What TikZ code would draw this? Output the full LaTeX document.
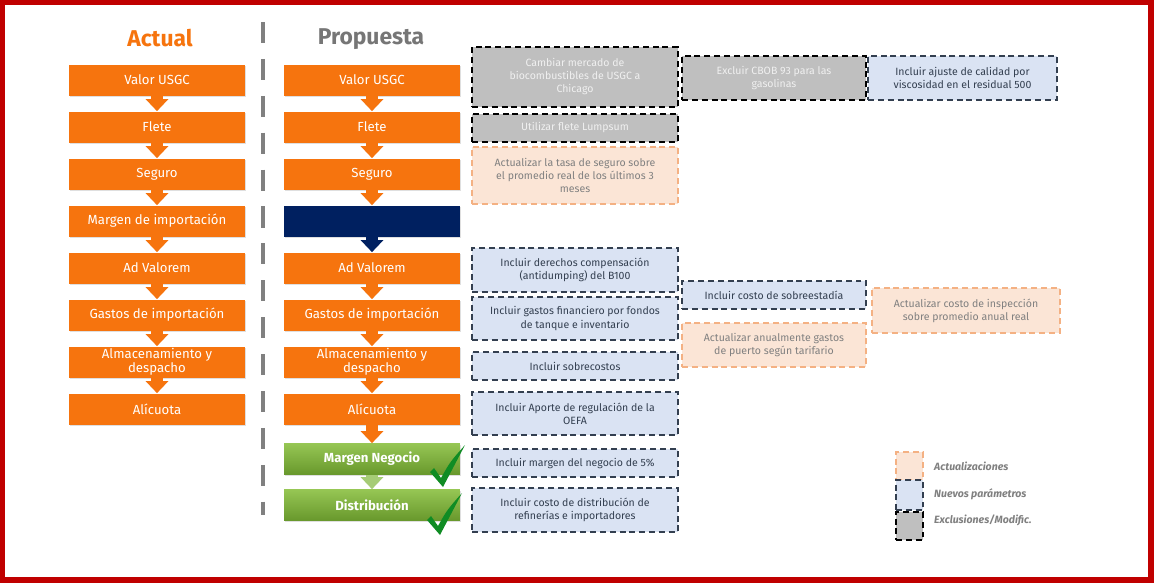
\documentclass[tikz,border=0pt]{standalone}
\usepackage{fontspec}
\setmainfont{Fira Sans}
\usetikzlibrary{arrows.meta,shadows}

\definecolor{naranja}{RGB}{246,116,14}
\definecolor{marino}{RGB}{0,32,96}
\definecolor{rojo}{RGB}{192,0,0}
\definecolor{divgris}{RGB}{128,128,128}
\definecolor{titgris}{RGB}{118,118,118}
\definecolor{verdeA}{RGB}{150,198,84}
\definecolor{verdeB}{RGB}{104,152,44}
\definecolor{verdeflecha}{RGB}{166,204,118}
\definecolor{check}{RGB}{16,140,36}
\definecolor{grisfill}{RGB}{191,191,191}
\definecolor{azulfill}{RGB}{218,227,243}
\definecolor{azulline}{RGB}{51,63,80}
\definecolor{naranjafill}{RGB}{251,229,214}
\definecolor{naranjaline}{RGB}{244,177,131}

\tikzset{
  paso/.style={fill=naranja, text=white, minimum width=3.52cm, minimum height=0.62cm,
    inner sep=0pt, align=center, font=\fontsize{7.5}{8.2}\selectfont,
    drop shadow={opacity=0.25, shadow xshift=0.5pt, shadow yshift=-0.7pt}},
  pasoverde/.style={paso, fill=none, top color=verdeA, bottom color=verdeB,
    font=\bfseries\fontsize{7.5}{8.2}\selectfont},
  flecha/.style={draw=naranja, line width=0.24cm, -{Triangle[width=0.44cm,length=0.24cm]}},
  cambio/.style={line width=0.8pt, dash pattern=on 3.4pt off 2.2pt, align=center,
    inner sep=1pt, font=\fontsize{6}{7.4}\selectfont},
  nuevo/.style={cambio, fill=azulfill, draw=azulline, text=azulline},
  actualiza/.style={cambio, fill=naranjafill, draw=naranjaline, text=gray},
  excluye/.style={cambio, fill=grisfill, draw=black, text=white!94!black},
  leyenda/.style={anchor=west, text=gray, font=\bfseries\itshape\fontsize{6}{7}\selectfont}
}

\begin{document}
\begin{tikzpicture}[x=0.02cm, y=-0.02cm]
  \useasboundingbox (0,0) rectangle (1154,583);
  \fill[rojo] (0,0) rectangle (1154,583);
  \fill[white] (5,5) rectangle (1148,577);

  % titles and divider
  \node[text=naranja, font=\bfseries\fontsize{13}{15}\selectfont] (tact) at (160,38) {Actual};
  \node[text=titgris, font=\bfseries\fontsize{13}{15}\selectfont] (tprop) at (371,39) {Propuesta};
  \draw[divgris, line width=2.8pt, dash pattern=on 12pt off 9pt] (263,22) -- (263,515);

  % actual
  \foreach \i/\t in {1/Valor USGC,2/Flete,3/Seguro,4/Margen de importación,5/Ad Valorem,
      6/Gastos de importación,7/{Almacenamiento y\\despacho},8/Alícuota}{
    \pgfmathsetmacro{\y}{33+47*\i}
    \node[paso] (a\i) at (157,\y) {\t};
  }
  \foreach \i/\j in {1/2,2/3,3/4,4/5,5/6,6/7,7/8}
    \draw[flecha] (a\i.south) -- (a\j.north);

  % propuesta
  \foreach \i/\t in {1/Valor USGC,2/Flete,3/Seguro,5/Ad Valorem,
      6/Gastos de importación,7/{Almacenamiento y\\despacho},8/Alícuota}{
    \pgfmathsetmacro{\y}{33+47*\i}
    \node[paso] (b\i) at (372,\y) {\t};
  }
  \node[paso, fill=marino] (b4) at (372,221) {};
  \node[pasoverde] (b9) at (372,459) {Margen Negocio};
  \node[pasoverde] (b10) at (372,505) {Distribución};
  \foreach \i/\j in {1/2,2/3,3/4,5/6,6/7,7/8,8/9}
    \draw[flecha] (b\i.south) -- (b\j.north);
  \draw[flecha, draw=marino] (b4.south) -- (b5.north);
  \draw[flecha, draw=verdeflecha] (b9.south) -- (b10.north);

  % checks
  \foreach \dx/\dy in {0/0,-3/48}
    \fill[check, shift={(\dx,\dy)}] (430,472) -- (434,468) -- (441,478)
      .. controls (450,462) .. (465,445) -- (443,487) -- cycle;

  % cambios
  \node[excluye, minimum width=4.12cm, minimum height=1.2cm] (s1) at (575,77)
    {Cambiar mercado de\\biocombustibles de USGC a\\Chicago};
  \node[excluye, minimum width=4.12cm, minimum height=0.56cm] (s2) at (575,128)
    {Utilizar flete Lumpsum};
  \node[actualiza, minimum width=4.12cm, minimum height=1.14cm] (s3) at (575,175.5)
    {Actualizar la tasa de seguro sobre\\el promedio real de los últimos 3\\meses};
  \node[nuevo, minimum width=4.12cm, minimum height=0.88cm] (s4) at (575,270)
    {Incluir derechos compensación\\(antidumping) del B100};
  \node[nuevo, minimum width=4.12cm, minimum height=0.86cm] (s5) at (575,318.5)
    {Incluir gastos financiero por fondos\\de tanque e inventario};
  \node[nuevo, minimum width=4.12cm, minimum height=0.56cm] (s6) at (575,366)
    {Incluir sobrecostos};
  \node[nuevo, minimum width=4.12cm, minimum height=0.86cm] (s7) at (575,413.5)
    {Incluir Aporte de regulación de la\\OEFA};
  \node[nuevo, minimum width=4.12cm, minimum height=0.56cm] (s8) at (575,463)
    {Incluir margen del negocio de 5\%};
  \node[nuevo, minimum width=4.12cm, minimum height=0.88cm] (s9) at (575,510)
    {Incluir costo de distribución de\\refinerías e importadores};

  \node[excluye, minimum width=3.68cm, minimum height=0.88cm] (t1) at (774,78)
    {Excluir CBOB 93 para las\\gasolinas};
  \node[nuevo, minimum width=3.68cm, minimum height=0.56cm] (t2) at (774,295)
    {Incluir costo de sobreestadía};
  \node[actualiza, minimum width=3.68cm, minimum height=0.88cm] (t3) at (774,345)
    {Actualizar anualmente gastos\\de puerto según tarifario};

  \node[nuevo, minimum width=3.78cm, minimum height=0.88cm] (u1) at (962.5,78)
    {Incluir ajuste de calidad por\\viscosidad en el residual 500};
  \node[actualiza, minimum width=3.76cm, minimum height=0.9cm] (u2) at (966,310.5)
    {Actualizar costo de inspección\\sobre promedio anual real};

  % leyenda
  \node[actualiza, minimum width=0.54cm, minimum height=0.56cm] (l1) at (909.5,466) {};
  \node[nuevo, minimum width=0.54cm, minimum height=0.6cm] (l2) at (909.5,495) {};
  \node[excluye, minimum width=0.54cm, minimum height=0.56cm] (l3) at (909.5,526) {};
  \node[leyenda] (ll1) at (928,466) {Actualizaciones};
  \node[leyenda] (ll2) at (928,494) {Nuevos parámetros};
  \node[leyenda] (ll3) at (928,520) {Exclusiones/Modific.};
\end{tikzpicture}
\end{document}
